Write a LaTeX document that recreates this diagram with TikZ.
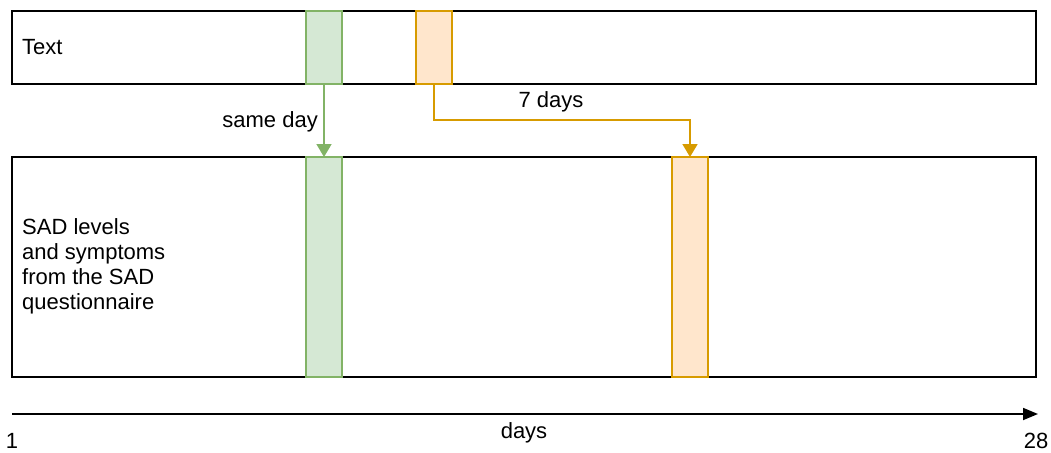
\documentclass[tikz,border=0pt]{standalone}
\usepackage{fontspec}
\setmainfont{Liberation Sans}
\usetikzlibrary{arrows.meta}
\definecolor{gfill}{HTML}{D5E8D4}
\definecolor{gline}{HTML}{82B366}
\definecolor{ofill}{HTML}{FFE6CC}
\definecolor{oline}{HTML}{D79B00}
\begin{document}
\begin{tikzpicture}[x=1pt,y=-1pt,
  lane/.style={draw=black,line width=1.8pt,fill=white},
  gbar/.style={draw=gline,fill=gfill,line width=1.8pt},
  obar/.style={draw=oline,fill=ofill,line width=1.8pt},
  lbl/.style={font=\fontsize{22}{25}\selectfont,inner sep=0pt}]
\useasboundingbox (0,0) rectangle (1051,452);
% lanes
\draw[lane] (12,11) rectangle (1036,84);
\draw[lane] (12,157) rectangle (1036,377);
% bars
\draw[gbar] (306,11) rectangle (342,84);
\draw[obar] (416,11) rectangle (452,84);
\draw[gbar] (306,157) rectangle (342,377);
\draw[obar] (672,157) rectangle (708,377);
\coordinate (gtb) at (324,84);
\coordinate (gbt) at (324,157);
\coordinate (otb) at (434,84);
\coordinate (obt) at (690,157);
% labels
\node[lbl,anchor=west] (text) at (22,47) {Text};
\node[lbl,anchor=west,align=left] (sad) at (22,266) {SAD levels\\and symptoms\\from the SAD\\questionnaire};
% connectors
\draw[draw=gline,line width=1.8pt,-{Triangle[width=15pt,length=13pt,fill=gline]}] (gtb) -- (gbt);
\node[lbl,anchor=east] (sd) at (318,122) {same day};
\draw[draw=oline,line width=1.8pt,-{Triangle[width=15pt,length=13pt,fill=oline]}] (otb) |- (562,120) -| (obt);
\node[lbl] (sd7) at (551,102) {7 days};
% axis
\coordinate (a0) at (12,414);
\coordinate (a1) at (1038,414);
\draw[line width=1.8pt,-{Triangle[width=12pt,length=15pt]}] (a0) -- (a1);
\node[lbl] (n1) at (12,441) {1};
\node[lbl] (n28) at (1036,441) {28};
\node[lbl] (days) at (524,433) {days};
\end{tikzpicture}
\end{document}
